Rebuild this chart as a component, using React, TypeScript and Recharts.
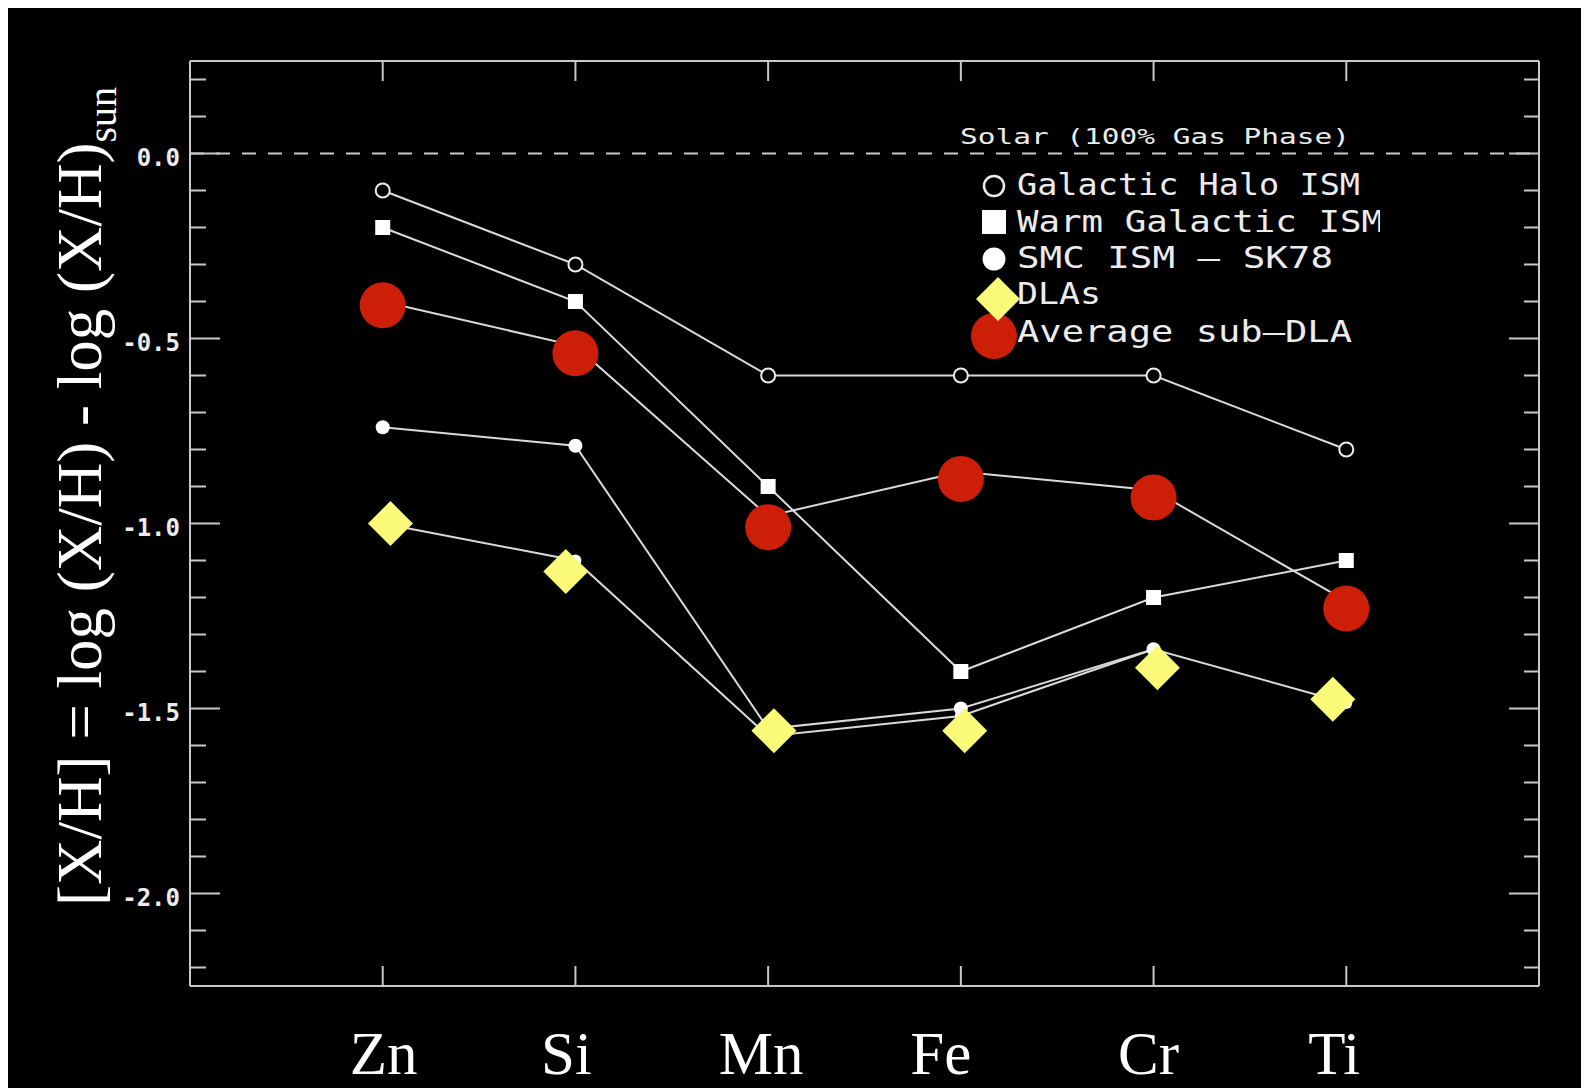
import React from "react"
import {
  ComposedChart,
  Line,
  XAxis,
  YAxis,
  ReferenceLine,
  Legend,
} from "recharts"

// element order along the x axis
const elements = ["Zn", "Si", "Mn", "Fe", "Cr", "Ti"]
const elementX = [1, 2, 3, 4, 5, 6]

// IDL plot series (white lines)
const haloISM = [-0.1, -0.3, -0.6, -0.6, -0.6, -0.8]
const warmISM = [-0.2, -0.4, -0.9, -1.4, -1.2, -1.1]
const smcSK78 = [-0.74, -0.79, -1.555, -1.5, -1.34, null]
const dlaLine = [-1.0, -1.1, -1.575, -1.52, -1.34, -1.485]
const subDlaLine = [-0.4, -0.52, -0.98, -0.86, -0.91, -1.21]

// overlaid markers (yellow diamonds / red dots)
const dlaMarkX = [1.04, 1.95, 3.03, 4.02, 5.02, 5.93]
const dlaMarkY = [-1.0, -1.13, -1.56, -1.56, -1.39, -1.475]
const subDlaMarkY = [-0.41, -0.54, -1.01, -0.88, -0.93, -1.23]

const yTicks = [
  0.2, 0.1, 0, -0.1, -0.2, -0.3, -0.4, -0.5, -0.6, -0.7, -0.8, -0.9, -1.0,
  -1.1, -1.2, -1.3, -1.4, -1.5, -1.6, -1.7, -1.8, -1.9, -2.0, -2.1, -2.2,
]

const AXIS = "#c8c8c8"
const LINE = "#dadada"
const INK = "#ececec"
const YELLOW = "#fafa78"
const RED = "#cd1f07"
const MONO = "'DejaVu Sans Mono', monospace"
const SERIF = "'Liberation Serif', 'Times New Roman', serif"

const rows = elementX.map((x, i) => ({
  x,
  halo: haloISM[i],
  warm: warmISM[i],
  smc: smcSK78[i],
  dla: dlaLine[i],
  subDla: subDlaLine[i],
}))
const dlaMarks = dlaMarkX.map((x, i) => ({ x, y: dlaMarkY[i] }))
const subDlaMarks = elementX.map((x, i) => ({ x, y: subDlaMarkY[i] }))

// small horizontal nudges of the big element labels, as in the original slide
const labelNudge: Record<string, number> = { Zn: 1, Si: -9, Mn: -7, Fe: -20, Cr: -5, Ti: -12 }

const isMajor = (v: number) => Math.abs(v * 2 - Math.round(v * 2)) < 1e-6

function LeftTick({ x, y, payload }: any) {
  const major = isMajor(payload.value)
  return (
    <g>
      <line x1={x} x2={x + (major ? 30 : 16)} y1={y} y2={y} stroke={AXIS} strokeWidth={2} />
      {major && (
        <text
          x={x - 10}
          y={y + 12}
          textAnchor="end"
          fill={INK}
          fontFamily={MONO}
          fontWeight="bold"
          fontSize={24}
        >
          {payload.value.toFixed(1)}
        </text>
      )}
    </g>
  )
}

function RightTick({ x, y, payload }: any) {
  const major = isMajor(payload.value)
  return <line x1={x} x2={x - (major ? 30 : 15)} y1={y} y2={y} stroke={AXIS} strokeWidth={2} />
}

function TopTick({ x, y }: any) {
  return <line x1={x} x2={x} y1={y} y2={y + 20} stroke={AXIS} strokeWidth={2} />
}

function BottomTick({ x, y, payload }: any) {
  const name = elements[elementX.indexOf(payload.value)]
  return (
    <g>
      <line x1={x} x2={x} y1={y} y2={y - 20} stroke={AXIS} strokeWidth={2} />
      <text
        x={x + (labelNudge[name] ?? 0)}
        y={y + 88}
        textAnchor="middle"
        fill="#fff"
        fontFamily={SERIF}
        fontSize={61}
      >
        {name}
      </text>
    </g>
  )
}

const openDot = (p: any) =>
  p.cy == null ? null : (
    <circle key={`h${p.index}`} cx={p.cx} cy={p.cy} r={7} fill="#000" stroke={INK} strokeWidth={2} />
  )
const squareDot = (p: any) =>
  p.cy == null ? null : (
    <rect key={`w${p.index}`} x={p.cx - 7.5} y={p.cy - 7.5} width={15} height={15} fill="#fff" />
  )
const filledDot = (p: any) =>
  p.cy == null ? null : <circle key={`f${p.index}`} cx={p.cx} cy={p.cy} r={7} fill="#fff" />
const smallDot = (p: any) =>
  p.cy == null ? null : <circle key={`d${p.index}`} cx={p.cx} cy={p.cy} r={6} fill="#fff" />

const diamond = (p: any) =>
  p.cy == null ? null : (
    <polygon
      key={`y${p.index}`}
      points={`${p.cx},${p.cy - 22.5} ${p.cx + 22.5},${p.cy} ${p.cx},${p.cy + 22.5} ${p.cx - 22.5},${p.cy}`}
      fill={YELLOW}
    />
  )
const redDot = (p: any) =>
  p.cy == null ? null : <circle key={`r${p.index}`} cx={p.cx} cy={p.cy} r={23} fill={RED} />

function AxisTitle() {
  return (
    <text
      x={93}
      y={898}
      transform="rotate(-90 93 898)"
      fill="#fff"
      fontFamily={SERIF}
      fontSize={63}
      textAnchor="start"
    >
      [X/H] = log (X/H) - log (X/H)
      <tspan fontSize={40} dy={15}>
        sun
      </tspan>
    </text>
  )
}

function SolarLabel({ viewBox }: any) {
  const vb = viewBox || { x: 182, y: 145, width: 1349 }
  return (
    <text
      x={vb.x + vb.width - 189}
      y={vb.y - 10}
      textAnchor="end"
      fill={INK}
      fontFamily={MONO}
      fontSize={22}
      textLength={390}
      lengthAdjust="spacingAndGlyphs"
    >
      Solar (100% Gas Phase)
    </text>
  )
}

const legendRows = [
  { label: "Galactic Halo ISM", width: 343, base: 35 },
  { label: "Warm Galactic ISM", width: 366, base: 72 },
  { label: "SMC ISM \u2013 SK78", width: 316, base: 108 },
  { label: "DLAs", width: 84, base: 144 },
  { label: "Average sub\u2013DLA", width: 335, base: 182 },
]

function LegendBox() {
  return (
    <svg width={420} height={210}>
      <circle cx={34} cy={26} r={10} fill="none" stroke={INK} strokeWidth={2.5} />
      <rect x={22} y={50} width={24} height={24} fill="#fff" />
      <circle cx={34} cy={99} r={11.5} fill="#fff" />
      <circle cx={34} cy={176} r={23} fill={RED} />
      <polygon points="38,117 60,139 38,161 16,139" fill={YELLOW} />
      {legendRows.map((r) => (
        <text
          key={r.label}
          x={57}
          y={r.base}
          fill={INK}
          fontFamily={MONO}
          fontSize={31}
          textLength={r.width}
          lengthAdjust="spacingAndGlyphs"
        >
          {r.label}
        </text>
      ))}
    </svg>
  )
}

export default function App() {
  return (
    <div style={{ width: 1581, height: 1080, background: "#000" }}>
      <ComposedChart
        width={1581}
        height={1080}
        data={rows}
        margin={{ top: 50, right: 40, bottom: 12, left: 82 }}
      >
        <XAxis
          dataKey="x"
          type="number"
          domain={[0, 7]}
          allowDataOverflow
          ticks={elementX}
          interval={0}
          height={90}
          tickSize={0}
          tickMargin={0}
          tickLine={false}
          axisLine={{ stroke: AXIS, strokeWidth: 2 }}
          tick={<BottomTick />}
        />
        <XAxis
          xAxisId="top"
          dataKey="x"
          orientation="top"
          type="number"
          domain={[0, 7]}
          allowDataOverflow
          ticks={elementX}
          interval={0}
          height={3}
          tickSize={0}
          tickMargin={0}
          tickLine={false}
          axisLine={{ stroke: AXIS, strokeWidth: 2 }}
          tick={<TopTick />}
        />
        <YAxis
          type="number"
          domain={[-2.25, 0.25]}
          allowDataOverflow
          ticks={yTicks}
          interval={0}
          width={100}
          tickSize={0}
          tickMargin={0}
          tickLine={false}
          axisLine={{ stroke: AXIS, strokeWidth: 2 }}
          tick={<LeftTick />}
          label={() => <AxisTitle />}
        />
        <YAxis
          yAxisId="right"
          orientation="right"
          type="number"
          domain={[-2.25, 0.25]}
          allowDataOverflow
          ticks={yTicks}
          interval={0}
          width={10}
          tickSize={0}
          tickMargin={0}
          tickLine={false}
          axisLine={{ stroke: AXIS, strokeWidth: 2 }}
          tick={<RightTick />}
        />
        <ReferenceLine
          y={0}
          stroke={AXIS}
          strokeWidth={2}
          strokeDasharray="14 12"
          label={(p: any) => <SolarLabel {...p} />}
        />
        <Line type="linear" dataKey="subDla" stroke={LINE} strokeWidth={2} dot={false} isAnimationActive={false} />
        <Line type="linear" dataKey="halo" stroke={LINE} strokeWidth={2} dot={openDot} isAnimationActive={false} />
        <Line type="linear" dataKey="warm" stroke={LINE} strokeWidth={2} dot={squareDot} isAnimationActive={false} />
        <Line type="linear" dataKey="smc" stroke={LINE} strokeWidth={2} dot={filledDot} isAnimationActive={false} />
        <Line type="linear" dataKey="dla" stroke={LINE} strokeWidth={2} dot={smallDot} isAnimationActive={false} />
        <Line
          data={subDlaMarks}
          dataKey="y"
          stroke="none"
          dot={redDot}
          activeDot={false}
          legendType="none"
          isAnimationActive={false}
        />
        <Line
          data={dlaMarks}
          dataKey="y"
          stroke="none"
          dot={diamond}
          activeDot={false}
          legendType="none"
          isAnimationActive={false}
        />
        <Legend
          layout="vertical"
          align="center"
          verticalAlign="middle"
          content={() => <LegendBox />}
          wrapperStyle={{ left: 952, top: 152, width: 420, height: 210 }}
        />
      </ComposedChart>
    </div>
  )
}
